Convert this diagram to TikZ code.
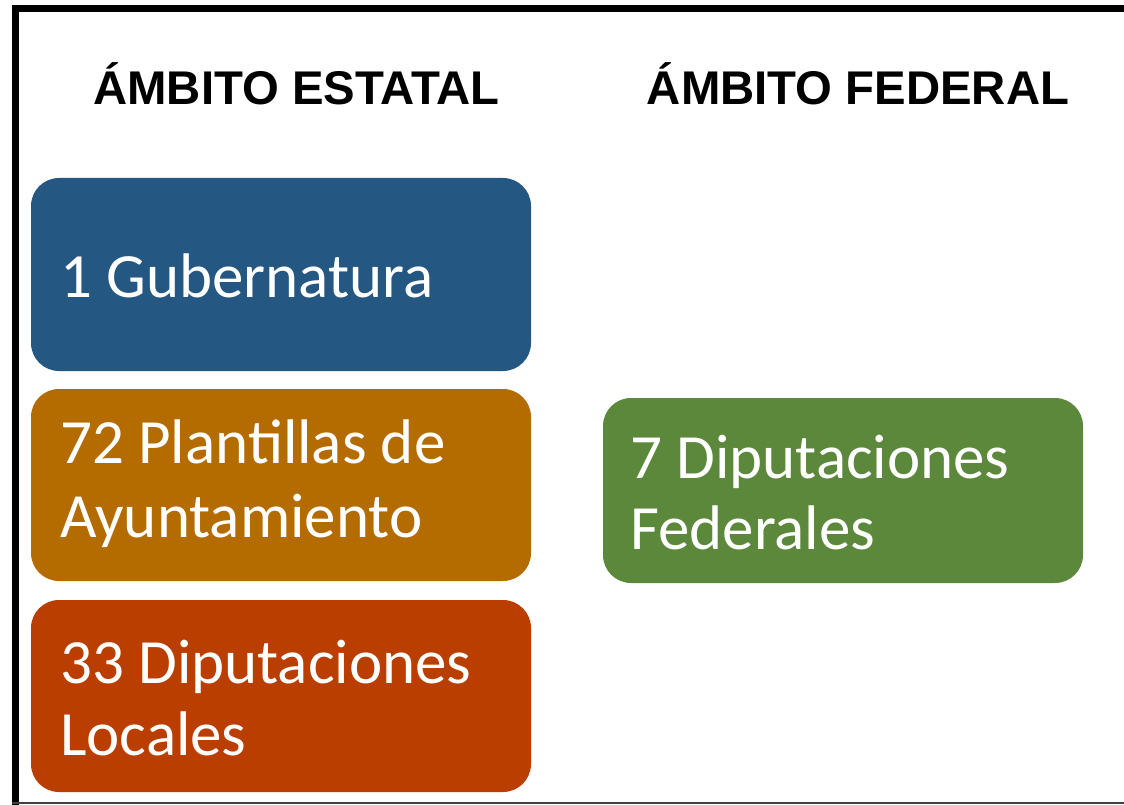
\documentclass[tikz,border=0pt]{standalone}
\usepackage{fontspec}
\setmainfont{Carlito}
\newfontfamily\headfont{Liberation Sans}
\definecolor{boxblue}{HTML}{245782}
\definecolor{boxorange}{HTML}{B46C00}
\definecolor{boxred}{HTML}{BA3E00}
\definecolor{boxgreen}{HTML}{5C883B}
\tikzset{
  box/.style={rounded corners=28pt, draw=none},
  label/.style={anchor=base west, inner sep=0pt, text=white, font=\fontsize{63}{73}\selectfont},
  head/.style={anchor=base, inner sep=0pt, font=\headfont\bfseries\fontsize{47.3}{52}\selectfont}
}
\begin{document}
\begin{tikzpicture}[x=1pt,y=-1pt]
\useasboundingbox (0,0) rectangle (1124,805);
\fill[white] (0,0) rectangle (1124,805);
% frame
\draw[line width=7pt] (1124,8.5) -- (15.5,8.5) -- (15.5,805);
\draw[line width=2pt, black!75] (12,803) -- (1124,803);
% headings
\node[head] (hE) at (296.5,105) {ÁMBITO ESTATAL};
\node[head] (hF) at (858,105) {ÁMBITO FEDERAL};
% boxes
\fill[box, boxblue] (31,178) rectangle (531,371);
\fill[box, boxorange] (31,389) rectangle (531,581);
\fill[box, boxred] (31,600) rectangle (531,792);
\fill[box, boxgreen] (603,398) rectangle (1083,583);
% labels
\node[label] (g1) at (60,297) {1 Gubernatura};
\node[label] (p1) at (60,463) {72 Plantillas de};
\node[label] (p2) at (60,537) {Ayuntamiento};
\node[label] (d1) at (60,683) {33 Diputaciones};
\node[label] (d2) at (60,755) {Locales};
\node[label] (f1) at (630,478) {7 Diputaciones};
\node[label] (f2) at (630,549) {Federales};
\end{tikzpicture}
\end{document}
